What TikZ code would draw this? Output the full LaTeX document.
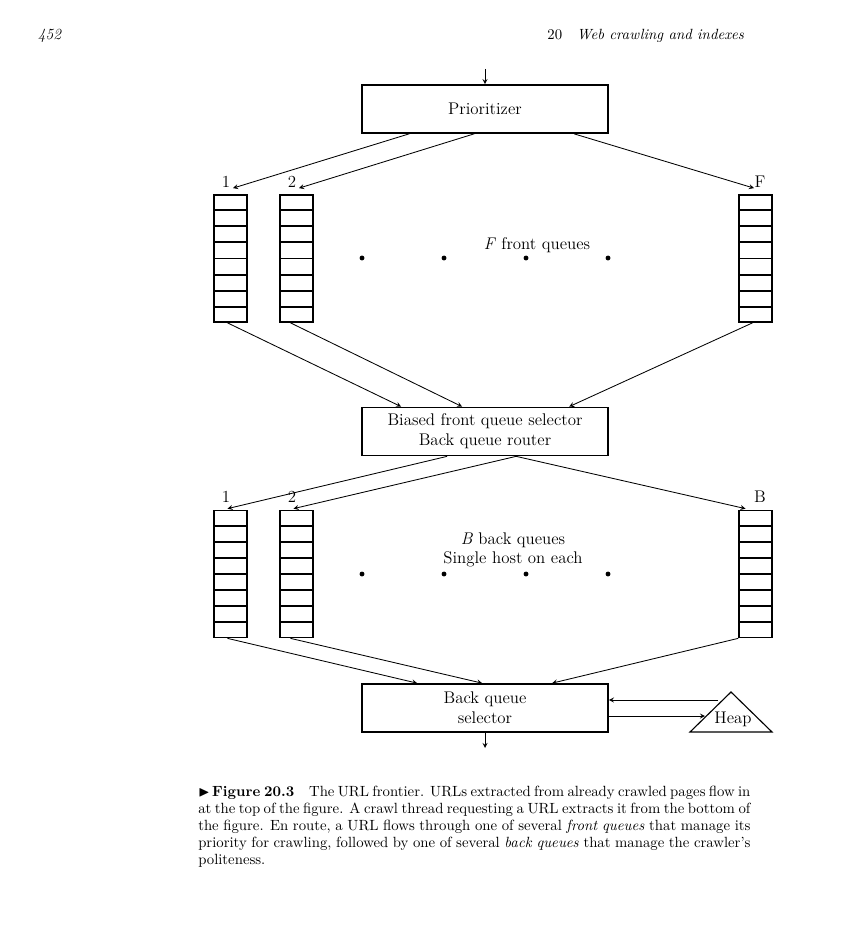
\documentclass[tikz,border=0pt]{standalone}
\usepackage{amssymb}
\usetikzlibrary{calc}
\begin{document}
\begin{tikzpicture}[>=stealth, x=0.025cm, y=-0.025cm, font=\fontsize{12}{14}\selectfont,
  box/.style={draw, line width=1.2pt, minimum width=6.15cm, minimum height=1.2cm, align=center},
  queue/.style={draw, line width=1.2pt, minimum width=0.825cm, minimum height=3.175cm, inner sep=0pt},
  link/.style={->, line width=0.6pt},
  dot/.style={circle, fill, inner sep=0pt, minimum size=3.5pt}]
\useasboundingbox (0,0) rectangle (846,952);

\node[anchor=base west, font=\fontsize{11}{13}\selectfont] (page) at (33,40) {\itshape 452};
\node[anchor=base east, font=\fontsize{10.5}{13}\selectfont] (chap) at (749,40) {20\quad\itshape Web crawling and indexes};

\node[box] (prio) at (485,109) {Prioritizer};
\node[box] (sel) at (485,431.5) {Biased front queue selector\\Back queue router};
\node[box] (bqs) at (485,708) {Back queue\\selector};

\node[queue] (fq1) at (230.5,258.5) {};
\node[queue] (fq2) at (296.5,258.5) {};
\node[queue] (fqF) at (755.5,258.5) {};
\node[queue] (bq1) at (230.5,574) {};
\node[queue] (bq2) at (296.5,574) {};
\node[queue] (bqB) at (755.5,574) {};
\foreach \q in {fq1,fq2,fqF,bq1,bq2,bqB}
  \foreach \i in {1,...,7}
    \draw[line width=1.3pt] ($(\q.north west)!\i/8!(\q.south west)$) -- ($(\q.north east)!\i/8!(\q.south east)$);

\node (fl1) at (226,182) {1};
\node (fl2) at (292,182) {2};
\node (flF) at (760,182) {F};
\node (bl1) at (226,497) {1};
\node (bl2) at (292,497) {2};
\node (blB) at (760,497) {B};

\node (ftxt) at (537,245) {\emph{F} front queues};
\node[align=center] (btxt) at (513,550) {\emph{B} back queues\\Single host on each};
\foreach \x in {362,444,526,608} {
  \node[dot] at (\x,258) {};
  \node[dot] at (\x,574) {};
}

\coordinate (in) at (485,69);
\coordinate (out) at (485,748);
\coordinate (hin) at (705,716);
\coordinate (hout) at (718,700);
\draw[line width=0.8pt] (690,732) -- (772,732) -- (731,692) -- cycle;
\node (heap) at (733,719) {Heap};

\draw[link] (in) -- (prio.north);
\draw[link] ($(prio.south west)+(48,0)$) -- ($(fq1.north)+(2.5,-6)$);
\draw[link] ($(prio.south west)+(113,0)$) -- ($(fq2.north)+(2.5,-6)$);
\draw[link] ($(prio.south west)+(213,0)$) -- ($(fqF.north)+(-1.5,-6)$);

\draw[link] ($(fq1.south)+(-3,0)$) -- ($(sel.north west)+(40,0)$);
\draw[link] ($(fq2.south)+(-6,0)$) -- ($(sel.north west)+(101,0)$);
\draw[link] ($(fqF.south)+(-3,0)$) -- ($(sel.north west)+(208,0)$);

\draw[link] ($(sel.south west)+(86,0)$) -- ($(bq1.north)+(-3,-1)$);
\draw[link] ($(sel.south west)+(155,0)$) -- ($(bq2.north)+(-3,-1)$);
\draw[link] ($(sel.south west)+(155,0)$) -- ($(bqB.north)+(-10,-1)$);

\draw[link] ($(bq1.south)+(-3,0)$) -- ($(bqs.north west)+(56,0)$);
\draw[link] ($(bq2.south)+(-6,0)$) -- ($(bqs.north west)+(121,0)$);
\draw[link] (bqB.south west) -- ($(bqs.north west)+(191,0)$);

\draw[link] (hout) -- (bqs.east |- hout);
\draw[link] (bqs.east |- hin) -- (hin);
\draw[link] (bqs.south) -- (out);

\node[anchor=north west, inner sep=0pt, text width=13.8cm, align=justify,
  font=\fontsize{10.5}{12.1}\selectfont] (cap) at (198,786)
  {$\blacktriangleright$\,\textbf{Figure 20.3}\quad The URL frontier. URLs extracted from already crawled pages flow in\linebreak
   at the top of the figure. A crawl thread requesting a URL extracts it from the bottom of\linebreak
   the figure. En route, a URL flows through one of several \emph{front queues} that manage its\linebreak
   priority for crawling, followed by one of several \emph{back queues} that manage the crawler's\linebreak
   politeness.};
\end{tikzpicture}
\end{document}
